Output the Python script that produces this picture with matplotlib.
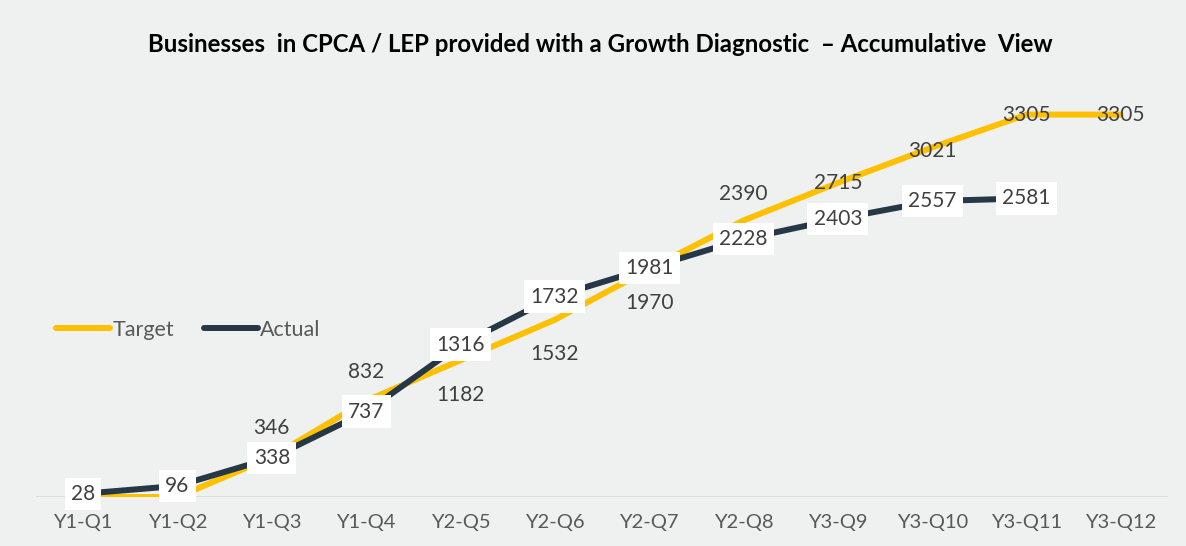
import numpy as np
import matplotlib.pyplot as plt

quarters = ["Y1-Q1", "Y1-Q2", "Y1-Q3", "Y1-Q4", "Y2-Q5", "Y2-Q6",
            "Y2-Q7", "Y2-Q8", "Y3-Q9", "Y3-Q10", "Y3-Q11", "Y3-Q12"]
target = [0, 0, 346, 832, 1182, 1532, 1970, 2390, 2715, 3021, 3305, 3305]
actual = [28, 96, 338, 737, 1316, 1732, 1981, 2228, 2403, 2557, 2581]

# where each target label sits relative to its point (pixels, up is positive)
target_offsets = [None, None, 29, 29, -35, -34, -34, 26, 0, -4, 0, 0]

YELLOW = "#FFC000"
NAVY = "#263746"
BG = "#EFF0F0"

plt.rcParams["font.family"] = ["Lato", "DejaVu Sans"]

fig = plt.figure(figsize=(11.86, 5.46), dpi=100, facecolor=BG)
ax = fig.add_axes([36 / 1186, 1 - 497 / 546, 1132 / 1186, (497 - 92) / 546])
ax.set_facecolor(BG)

x = np.arange(len(quarters))
ax.plot(x, target, color=YELLOW, lw=4.3, solid_capstyle="round", label="Target", zorder=2)
ax.plot(x[:len(actual)], actual, color=NAVY, lw=4.3, solid_capstyle="round", label="Actual", zorder=3)

for i, v in enumerate(target):
    off = target_offsets[i]
    if off is None:
        continue
    ax.annotate(str(v), (i, v), xytext=(0, off), textcoords="offset pixels",
                ha="center", va="center", fontsize=15, color="#404040", zorder=4)

for i, v in enumerate(actual):
    ax.annotate(str(v), (i, v), ha="center", va="center", fontsize=15, color="#404040",
                zorder=5, bbox=dict(boxstyle="square,pad=0.3", fc="white", ec="none"))

ax.set_xlim(-0.5, len(quarters) - 0.5)
ax.set_ylim(0, 3500)
ax.set_xticks(x)
ax.set_xticklabels(quarters, fontsize=14.5, color="#595959")
ax.set_yticks([])
ax.tick_params(axis="x", length=0, pad=12)
for s in ax.spines.values():
    s.set_visible(False)
ax.axhline(0, color="#D9D9D9", lw=1.2, zorder=1)

fig.text(0.506, 0.918, "Businesses  in CPCA / LEP provided with a Growth Diagnostic  \u2013 Accumulative  View",
         ha="center", va="center", fontsize=17.3, fontweight="bold", color="black")

fig.legend(loc="center left", bbox_to_anchor=(37 / 1186, 1 - 330 / 546), frameon=False,
           ncol=2, fontsize=15.5, handlelength=2.5, handletextpad=0.1, columnspacing=1.4,
           labelcolor="#595959")

fig.savefig("out.png", dpi=100, facecolor=BG)
